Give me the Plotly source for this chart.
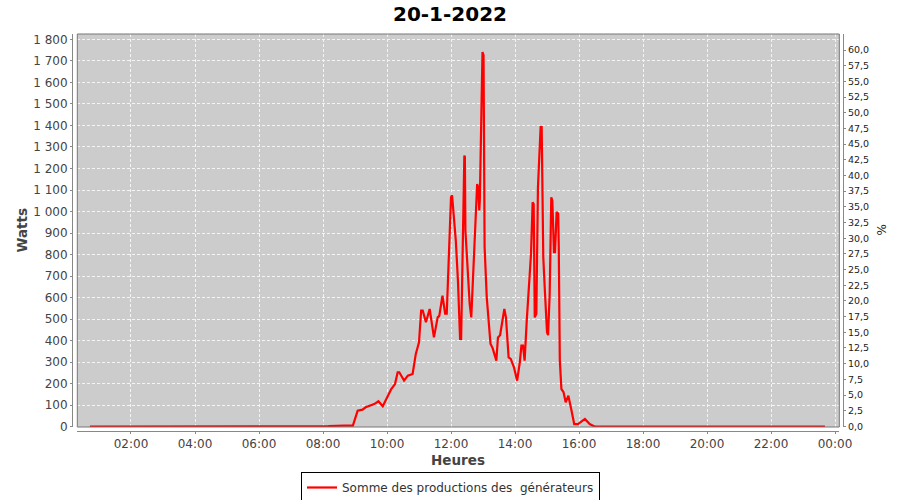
import plotly.graph_objects as go

# ---- data ----
times = ["00:43", "01:30", "02:30", "03:30", "04:30", "05:30", "06:30", "07:30", "08:10", "08:40", "08:56",
         "09:05", "09:14", "09:20", "09:36", "09:44", "09:52", "10:08", "10:15", "10:20", "10:23",
         "10:32", "10:39", "10:48", "10:54", "11:00", "11:04", "11:07", "11:13", "11:20", "11:22",
         "11:28", "11:35", "11:38", "11:44", "11:49", "11:52", "11:55", "12:00", "12:02", "12:09",
         "12:13", "12:17", "12:19", "12:25", "12:26", "12:27", "12:35", "12:38", "12:44", "12:49",
         "12:51", "12:53", "12:54", "12:59", "13:01", "13:03", "13:07", "13:09", "13:14", "13:18",
         "13:25", "13:28", "13:32", "13:40", "13:43", "13:48", "13:52", "13:58", "14:04", "14:09",
         "14:12", "14:15", "14:18", "14:22", "14:26", "14:30", "14:33", "14:35", "14:37", "14:40",
         "14:43", "14:48", "14:50", "14:53", "14:56", "15:00", "15:02", "15:05", "15:08", "15:10",
         "15:13", "15:15", "15:18", "15:21", "15:22", "15:24", "15:27", "15:31", "15:35", "15:40",
         "15:46", "15:51", "15:58", "16:11", "16:20", "16:30", "17:30", "18:30", "19:30", "20:30",
         "21:30", "22:30", "23:41"]
watts = [0, 0, 0, 0, 0, 0, 0, 0, 3, 5, 5,
         74, 79, 90, 105, 118, 95, 175, 198, 253, 253,
         214, 237, 245, 338, 392, 540, 540, 485, 547, 510,
         415, 508, 515, 609, 525, 525, 756, 1066, 1075, 865,
         679, 408, 408, 1260, 1254, 912, 571, 508, 865, 1128,
         1113, 1005, 1050, 1741, 1726, 834, 601, 540, 386, 365,
         307, 415, 425, 547, 508, 322, 315, 276, 214, 299,
         377, 377, 307, 493, 632, 803, 1043, 1035, 508, 525,
         1113, 1392, 1392, 787, 632, 439, 425, 617, 1066, 1050,
         811, 811, 997, 990, 841, 307, 175, 160, 113, 144,
         74, 12, 12, 36, 12, 0, 0, 0, 0, 0,
         0, 0, 0]

day = "2022-01-20"
x_dates = [f"{day} {t}:00" for t in times]

left_ticks = list(range(0, 1900, 100))
right_ticks = [i * 2.5 for i in range(25)]

title_text = "20-1-2022"
series_name = "Somme des productions des \u00a0générateurs"

# ---- figure ----
W, H = 900, 500
L, R, T, B = 72, 57, 34, 69
pw = W - L - R
ph = H - T - B

fig = go.Figure()
fig.add_trace(go.Scatter(
    x=x_dates, y=watts, mode="lines", name=series_name,
    line=dict(color="#ff0000", width=2.2), yaxis="y",
))
# invisible trace on the % axis so it is drawn
fig.add_trace(go.Scatter(x=[x_dates[0]], y=[0], yaxis="y2", mode="markers",
                         marker=dict(opacity=0), showlegend=False, hoverinfo="skip"))

tickfont = dict(family="DejaVu Sans", size=12, color="#444444")

fig.update_layout(
    width=W, height=H,
    margin=dict(l=L, r=R, t=T, b=B, pad=0, autoexpand=False),
    paper_bgcolor="white",
    plot_bgcolor="#cccccc",
    separators=", ",
    title=dict(text=f"<b>{title_text}</b>", x=0.5, xref="container", xanchor="center",
               y=1 - 13.5 / H, yref="container", yanchor="middle",
               font=dict(family="DejaVu Sans", size=20, color="black")),
    xaxis=dict(
        type="date", automargin=False,
        domain=[(77.3 - L) / pw, (839.3 - L) / pw],
        anchor="free", position=0,
        range=[f"{day} 00:19:20", "2022-01-21 00:08:00"],
        dtick=2 * 3600 * 1000, tick0=f"{day} 00:00", tickformat="%H:%M",
        showline=True, linecolor="#888888", linewidth=1,
        ticks="outside", ticklen=2, tickcolor="#888888",
        showgrid=True, gridcolor="#f4f4f4", griddash="3px,2px", gridwidth=1,
        tickfont=tickfont, zeroline=False,
    ),
    yaxis=dict(
        automargin=False,
        domain=[(431 - 427) / ph, 1],
        anchor="free", position=0,
        range=[-1.5, 1825],
        tickvals=left_ticks, tickformat=",d",
        showline=True, linecolor="#888888", linewidth=1,
        ticks="outside", ticklen=2, tickcolor="#888888",
        showgrid=True, gridcolor="#f4f4f4", griddash="3px,2px", gridwidth=1,
        tickfont=tickfont, zeroline=False,
    ),
    yaxis2=dict(
        automargin=False,
        overlaying="y", side="right", anchor="free", position=1,
        range=[-0.1, 62.55],
        tickvals=right_ticks, tickformat=".1f",
        showline=True, linecolor="#888888", linewidth=1,
        ticks="outside", ticklen=2, tickcolor="#888888",
        showgrid=False, zeroline=False,
        tickfont=dict(family="DejaVu Sans", size=9.5, color="#222222"),
    ),
    showlegend=True,
    legend=dict(
        x=(450.5 - L) / pw, xanchor="center", y=(431 - 472) / ph, yanchor="top",
        bgcolor="white", bordercolor="black", borderwidth=1,
        font=dict(family="DejaVu Sans", size=12, color="#333333"),
        itemwidth=30, tracegroupgap=0,
    ),
)

# plot border
fig.add_shape(type="rect", xref="x domain", yref="y domain", x0=0, x1=1, y0=0, y1=1,
              line=dict(color="#777777", width=1), fillcolor="rgba(0,0,0,0)", layer="above")

# axis titles
fig.add_annotation(text="<b>Watts</b>", xref="paper", yref="paper",
                   x=(22 - L) / pw, y=(431 - 230.5) / ph, textangle=-90, showarrow=False,
                   xanchor="center", yanchor="middle",
                   font=dict(family="DejaVu Sans", size=13.5, color="#444444"))
fig.add_annotation(text="<b>Heures</b>", xref="paper", yref="paper",
                   x=(458 - L) / pw, y=(431 - 460) / ph, showarrow=False,
                   xanchor="center", yanchor="middle",
                   font=dict(family="DejaVu Sans", size=13.5, color="#444444"))
fig.add_annotation(text="%", xref="paper", yref="paper",
                   x=(882 - L) / pw, y=(431 - 230.5) / ph, textangle=-90, showarrow=False,
                   xanchor="center", yanchor="middle",
                   font=dict(family="DejaVu Sans", size=12, color="#222222"))

fig.write_html("out.html", config={"displayModeBar": False},
               post_script="document.body.style.margin='0';document.body.style.overflow='hidden';")
